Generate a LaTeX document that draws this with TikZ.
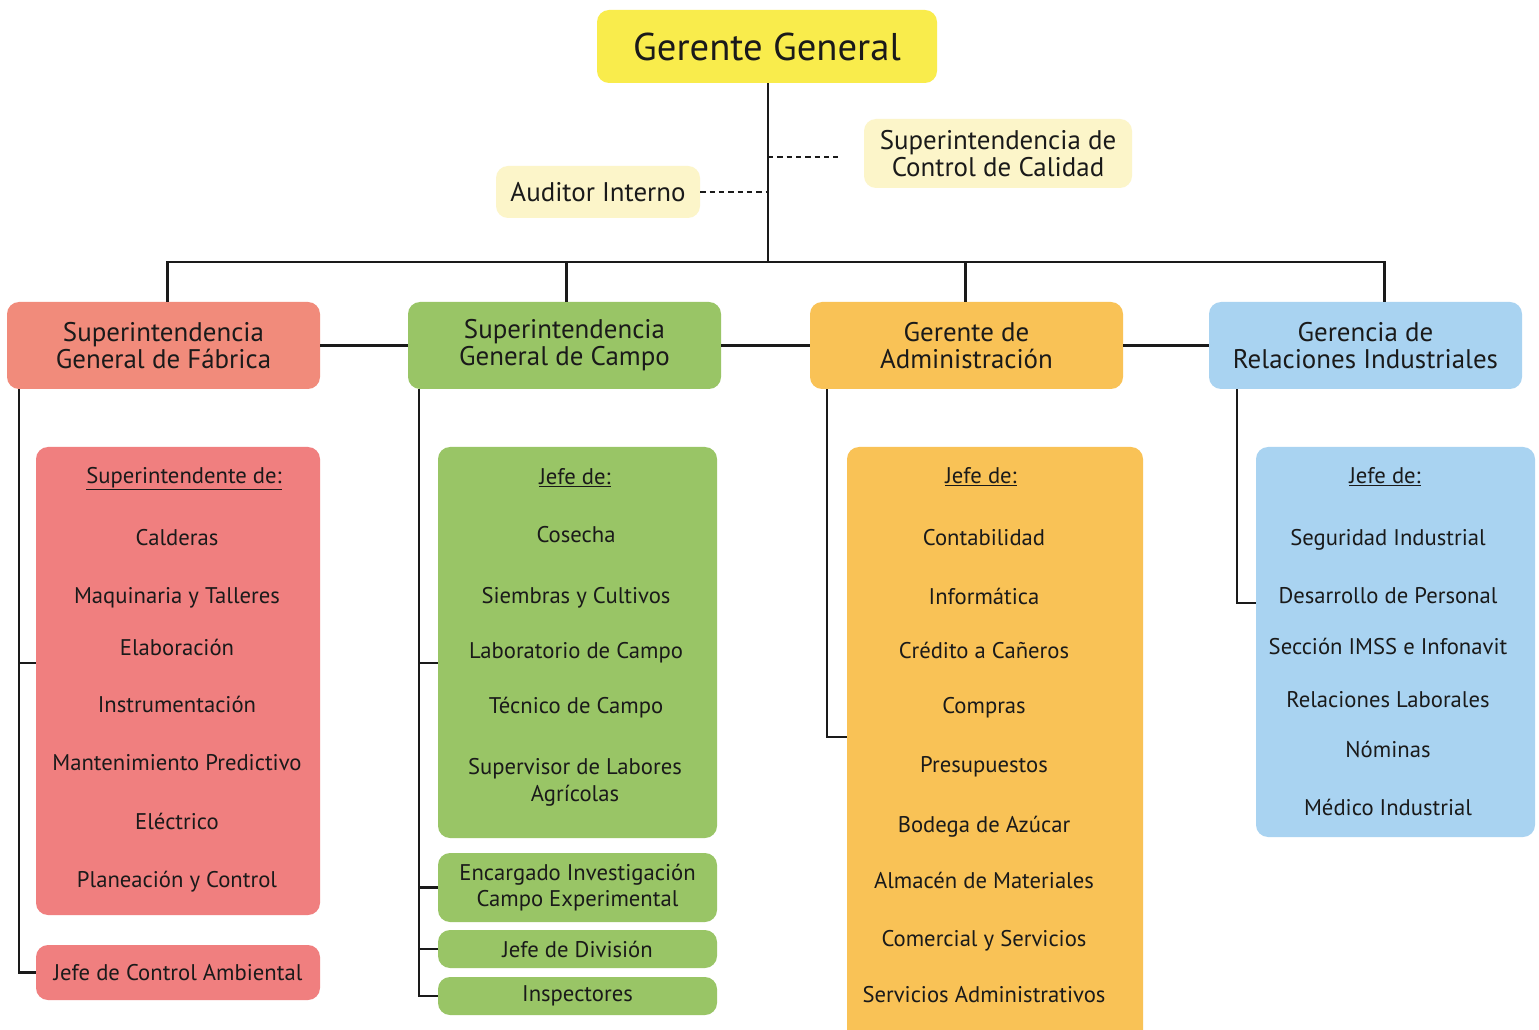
\documentclass[tikz,border=0pt]{standalone}
\usepackage{fontspec}
\setmainfont{PT Sans}
\usetikzlibrary{calc}
\definecolor{ggyellow}{HTML}{F9EC4C}
\definecolor{lyellow}{HTML}{FCF5C9}
\definecolor{salmon}{HTML}{F18B7B}
\definecolor{pinkred}{HTML}{F07F7F}
\definecolor{leaf}{HTML}{99C566}
\definecolor{amber}{HTML}{F9C256}
\definecolor{sky}{HTML}{A9D3F1}
\definecolor{ink}{HTML}{1A1A1A}
\newcommand{\orgbox}[7]{\node[#1, minimum width={(#5-#3)*0.75pt}, minimum height={(#6-#4)*0.75pt}] (#2) at ({(#3+#5)/2},{(#4+#6)/2}) {#7};}
\tikzset{
  box/.style={rounded corners=9pt, inner sep=0pt, align=center, text=ink},
  lvltwo/.style={font=\fontsize{20.2}{20.3}\selectfont},
  itemtxt/.style={font=\fontsize{17}{20}\selectfont, text=ink, align=center, inner sep=0pt, text height=1.5ex, text depth=.3ex, yshift=-2.5pt},
  conn/.style={line width=1.8pt, draw=ink},
  dashline/.style={line width=1.5pt, draw=ink, dash pattern=on 4pt off 3pt},
}
\begin{document}
\begin{tikzpicture}[x=0.75pt,y=-0.75pt]
\useasboundingbox (0,0) rectangle (1539,1030);
\fill[white] (0,0) rectangle (1539,1030);
% top
\orgbox{box,fill=ggyellow,font=\fontsize{29}{29}\selectfont}{gg}{597}{10}{937}{83}{Gerente General}
\orgbox{box,fill=lyellow,lvltwo}{qc}{864}{119}{1132}{188}{Superintendencia de\\Control de Calidad}
\orgbox{box,fill=lyellow,lvltwo}{aud}{496}{166}{700}{218}{Auditor Interno}
% level 2
\orgbox{box,fill=salmon,lvltwo}{fab}{7}{302}{320}{389}{Superintendencia\\General de Fábrica}
\orgbox{box,fill=leaf,lvltwo}{camp}{408}{302}{721}{389}{Superintendencia\\General de Campo}
\orgbox{box,fill=amber,lvltwo}{adm}{810}{302}{1123}{389}{Gerente de\\Administración}
\orgbox{box,fill=sky,lvltwo}{rel}{1209}{302}{1522}{389}{Gerencia de\\Relaciones Industriales}
% level 3 boxes
\orgbox{box,fill=pinkred}{redbox}{36}{447}{320}{915}{}
\orgbox{box,fill=pinkred,font=\fontsize{17}{20}\selectfont}{jca}{36}{945}{320}{1000}{Jefe de Control Ambiental}
\orgbox{box,fill=leaf}{greenbox}{438}{447}{717}{838}{}
\orgbox{box,fill=leaf,font=\fontsize{17}{20}\selectfont}{enc}{438}{853}{717}{922}{Encargado Investigación\\Campo Experimental}
\orgbox{box,fill=leaf,font=\fontsize{17}{20}\selectfont}{div}{438}{930}{717}{968}{Jefe de División}
\orgbox{box,fill=leaf,font=\fontsize{17}{20}\selectfont}{insp}{438}{977}{717}{1015}{Inspectores}
\orgbox{box,fill=amber}{orangebox}{847}{447}{1143}{1045}{}
\orgbox{box,fill=sky}{bluebox}{1256}{447}{1535}{837}{}
% items red
\node[itemtxt] (r0) at (184,476) {\underline{Superintendente de:}};
\foreach \t/\y [count=\i] in {Calderas/538, Maquinaria y Talleres/596, Elaboración/648, Instrumentación/705, Mantenimiento Predictivo/763, Eléctrico/822, Planeación y Control/880}
  \node[itemtxt] (r\i) at (177,\y) {\t};
% items green
\node[itemtxt] (g0) at (575,477) {\underline{Jefe de:}};
\foreach \t/\y [count=\i] in {Cosecha/535, Siembras y Cultivos/596, Laboratorio de Campo/651, Técnico de Campo/706}
  \node[itemtxt] (g\i) at (576,\y) {\t};
\node[itemtxt, text height=, text depth=, yshift=0pt] (g5) at (575,779) {Supervisor de Labores\\Agrícolas};
% items orange
\node[itemtxt] (o0) at (981,476) {\underline{Jefe de:}};
\foreach \t/\y [count=\i] in {Contabilidad/538, Informática/597, Crédito a Cañeros/651, Compras/706, Presupuestos/765, Bodega de Azúcar/825, Almacén de Materiales/881, Comercial y Servicios/939, Servicios Administrativos/995}
  \node[itemtxt] (o\i) at (984,\y) {\t};
% items blue
\node[itemtxt] (b0) at (1385,476) {\underline{Jefe de:}};
\foreach \t/\y [count=\i] in {Seguridad Industrial/538, Desarrollo de Personal/596, Sección IMSS e Infonavit/647, Relaciones Laborales/700, Nóminas/750, Médico Industrial/808}
  \node[itemtxt] (b\i) at (1388,\y) {\t};
% connectors
\coordinate (bus) at (768,262);
\coordinate (qcA) at (768,157);
\coordinate (qcB) at (838,157);
\draw[conn] (gg.south -| bus) -- (bus);
\draw[conn] ($(fab.north)+(4,0)$) |- (bus) -| ($(rel.north)+(19,0)$);
\draw[conn] ($(camp.north)+(2,0)$) -- ($(camp.north |- bus)+(2,0)$);
\draw[conn] ($(adm.north)+(-1,0)$) -- ($(adm.north |- bus)+(-1,0)$);
\draw[conn] (fab.east) -- (camp.west);
\draw[conn] (camp.east) -- (adm.west);
\draw[conn] (adm.east) -- (rel.west);
\draw[dashline] (aud.east) -- (aud.east -| bus);
\draw[dashline] (qcA) -- (qcB);
\draw[conn] ($(fab.south west)+(12,0)$) |- ($(redbox.north west)+(0,216)$);
\draw[conn] ($(fab.south west)+(12,0)$) |- (jca.west);
\draw[conn] ($(camp.south west)+(11,0)$) |- ($(greenbox.north west)+(0,216)$);
\draw[conn] ($(camp.south west)+(11,0)$) |- (enc.west);
\draw[conn] ($(camp.south west)+(11,0)$) |- (div.west);
\draw[conn] ($(camp.south west)+(11,0)$) |- (insp.west);
\draw[conn] ($(adm.south west)+(17,0)$) |- ($(orangebox.north west)+(0,290)$);
\draw[conn] ($(rel.south west)+(28,0)$) |- ($(bluebox.north west)+(0,156)$);
\end{tikzpicture}
\end{document}
